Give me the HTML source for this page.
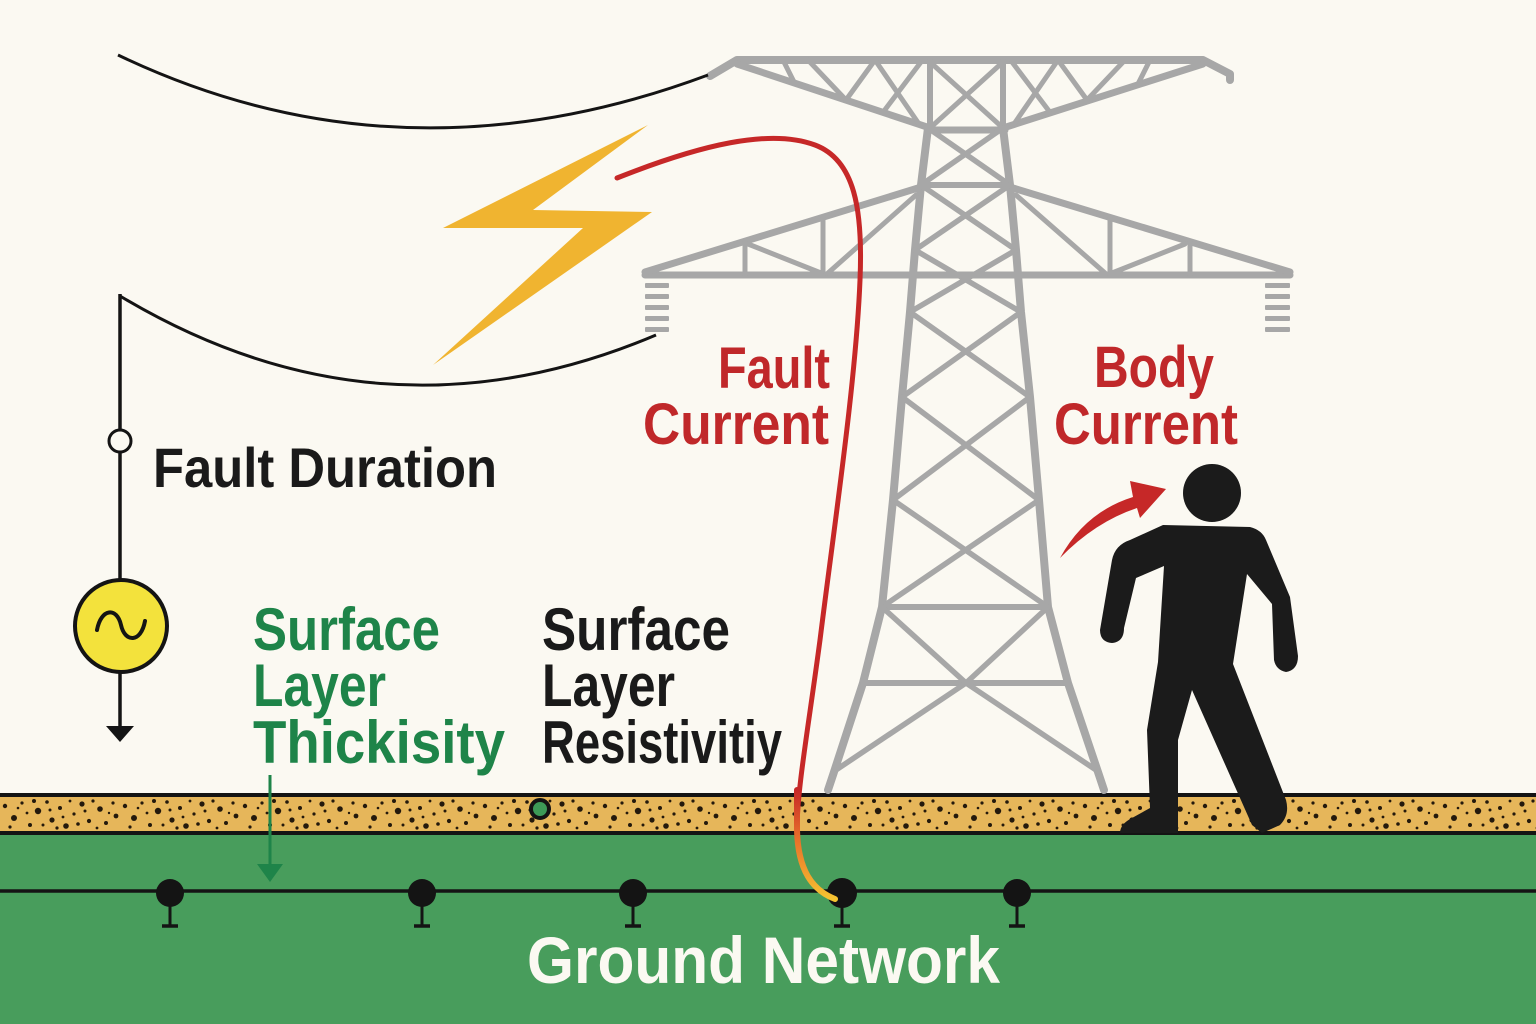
<!DOCTYPE html>
<html>
<head>
<meta charset="utf-8">
<style>
html,body{margin:0;padding:0;background:#fbf9f2;}
svg{display:block;}
text{font-family:"Liberation Sans",sans-serif;font-weight:bold;}
</style>
</head>
<body>
<svg width="1536" height="1024" viewBox="0 0 1536 1024" xmlns="http://www.w3.org/2000/svg">
<defs>
  <pattern id="spk" patternUnits="userSpaceOnUse" x="0" y="797" width="120" height="35">
    <rect width="120" height="35" fill="#e6b65a"/>
    <g fill="#24190c">
      <circle cx="5" cy="9" r="2.2"/><circle cx="14" cy="21" r="3"/><circle cx="22" cy="6" r="1.6"/>
      <circle cx="30" cy="28" r="2"/><circle cx="38" cy="14" r="3.2"/><circle cx="47" cy="5" r="1.8"/>
      <circle cx="52" cy="23" r="2.6"/><circle cx="60" cy="11" r="2"/><circle cx="66" cy="29" r="2.8"/>
      <circle cx="74" cy="17" r="1.6"/><circle cx="82" cy="7" r="2.6"/><circle cx="89" cy="24" r="2.1"/>
      <circle cx="10" cy="30" r="1.6"/><circle cx="27" cy="16" r="1.4"/><circle cx="43" cy="28" r="1.5"/>
      <circle cx="57" cy="31" r="1.6"/><circle cx="70" cy="4" r="1.4"/><circle cx="85" cy="14" r="1.5"/>
      <circle cx="93" cy="4" r="1.6"/><circle cx="18" cy="11" r="1.3"/><circle cx="34" cy="4" r="2"/>
      <circle cx="63" cy="20" r="1.4"/><circle cx="78" cy="27" r="1.8"/><circle cx="50" cy="13" r="1.5"/>
      <circle cx="100" cy="12" r="2.8"/><circle cx="106" cy="26" r="2"/><circle cx="113" cy="6" r="1.6"/>
      <circle cx="116" cy="19" r="2.4"/><circle cx="97" cy="31" r="1.4"/><circle cx="109" cy="16" r="1.2"/>
    </g>
  </pattern>
  <linearGradient id="fg" gradientUnits="userSpaceOnUse" x1="0" y1="790" x2="0" y2="900">
    <stop offset="0" stop-color="#c62828"/>
    <stop offset="0.45" stop-color="#e8702a"/>
    <stop offset="1" stop-color="#f6c531"/>
  </linearGradient>
</defs>

<!-- background -->
<rect width="1536" height="1024" fill="#fbf9f2"/>

<!-- ground -->
<rect x="0" y="834" width="1536" height="190" fill="#489d5c"/>
<rect x="0" y="797" width="1536" height="35" fill="url(#spk)"/>
<rect x="0" y="793" width="1536" height="4" fill="#141414"/>
<rect x="0" y="831" width="1536" height="4" fill="#141414"/>

<!-- ground network line -->
<line x1="0" y1="891" x2="1536" y2="891" stroke="#141414" stroke-width="3.5"/>
<g fill="#141414" stroke="#141414">
  <g transform="translate(170,0)"><circle cx="0" cy="893" r="14" stroke="none"/><line x1="0" y1="905" x2="0" y2="926" stroke-width="3"/><line x1="-8" y1="926" x2="8" y2="926" stroke-width="3.5"/></g>
  <g transform="translate(422,0)"><circle cx="0" cy="893" r="14" stroke="none"/><line x1="0" y1="905" x2="0" y2="926" stroke-width="3"/><line x1="-8" y1="926" x2="8" y2="926" stroke-width="3.5"/></g>
  <g transform="translate(633,0)"><circle cx="0" cy="893" r="14" stroke="none"/><line x1="0" y1="905" x2="0" y2="926" stroke-width="3"/><line x1="-8" y1="926" x2="8" y2="926" stroke-width="3.5"/></g>
  <g transform="translate(842,0)"><circle cx="0" cy="893" r="15" stroke="none"/><line x1="0" y1="905" x2="0" y2="926" stroke-width="3"/><line x1="-8" y1="926" x2="8" y2="926" stroke-width="3.5"/></g>
  <g transform="translate(1017,0)"><circle cx="0" cy="893" r="14" stroke="none"/><line x1="0" y1="905" x2="0" y2="926" stroke-width="3"/><line x1="-8" y1="926" x2="8" y2="926" stroke-width="3.5"/></g>
</g>

<!-- small green circle in surface layer -->
<circle cx="540" cy="809" r="9" fill="#3d9a57" stroke="#141414" stroke-width="4"/>

<!-- green arrow -->
<line x1="270" y1="775" x2="270" y2="866" stroke="#1e8449" stroke-width="3"/>
<polygon points="257,864 283,864 270,882" fill="#1e8449"/>

<!-- tower -->
<g stroke="#a7a7a7" stroke-linecap="round" fill="none">
  <!-- top arm -->
  <polyline points="710,76 737,60 1203,60 1230,74 1230,80" stroke-width="8" stroke-linejoin="round"/>
  <line x1="737" y1="64" x2="930" y2="128" stroke-width="7"/>
  <line x1="1203" y1="64" x2="1003" y2="128" stroke-width="7"/>
  <line x1="930" y1="60" x2="930" y2="130" stroke-width="6"/>
  <line x1="1003" y1="60" x2="1003" y2="130" stroke-width="6"/>
  <line x1="930" y1="62" x2="1003" y2="128" stroke-width="5"/>
  <line x1="1003" y1="62" x2="930" y2="128" stroke-width="5"/>
  <!-- left web -->
  <line x1="783" y1="60" x2="795" y2="84" stroke-width="5"/>
  <line x1="808" y1="60" x2="846" y2="100" stroke-width="5"/>
  <line x1="846" y1="100" x2="875" y2="60" stroke-width="5"/>
  <line x1="875" y1="60" x2="919" y2="124" stroke-width="5"/>
  <line x1="884" y1="111" x2="921" y2="62" stroke-width="5"/>
  <!-- right web (mirror) -->
  <line x1="1150" y1="60" x2="1138" y2="84" stroke-width="5"/>
  <line x1="1125" y1="60" x2="1087" y2="100" stroke-width="5"/>
  <line x1="1087" y1="100" x2="1058" y2="60" stroke-width="5"/>
  <line x1="1058" y1="60" x2="1014" y2="124" stroke-width="5"/>
  <line x1="1049" y1="111" x2="1012" y2="62" stroke-width="5"/>
  <!-- waist -->
  <line x1="928" y1="130" x2="1005" y2="130" stroke-width="7"/>

  <!-- legs -->
  <polyline points="928,128 921,185 915,250 910,312 902,397 893,500 882,607 863,683 833,775 828,790" stroke-width="8" stroke-linejoin="round"/>
  <polyline points="1003,128 1010,185 1016,250 1021,312 1030,397 1039,500 1048,607 1068,683 1099,775 1104,790" stroke-width="8" stroke-linejoin="round"/>
  <!-- horizontals -->
  <line x1="921" y1="185" x2="1010" y2="185" stroke-width="6"/>
  <line x1="882" y1="607" x2="1048" y2="607" stroke-width="6"/>
  <line x1="863" y1="683" x2="1068" y2="683" stroke-width="6"/>
  <!-- X braces -->
  <g stroke-width="5.5">
    <line x1="928" y1="128" x2="1010" y2="185"/><line x1="1003" y1="128" x2="921" y2="185"/>
    <line x1="921" y1="185" x2="1016" y2="250"/><line x1="1010" y1="185" x2="915" y2="250"/>
    <line x1="915" y1="250" x2="1021" y2="312"/><line x1="1016" y1="250" x2="910" y2="312"/>
    <line x1="910" y1="312" x2="1030" y2="397"/><line x1="1021" y1="312" x2="902" y2="397"/>
    <line x1="902" y1="397" x2="1039" y2="500"/><line x1="1030" y1="397" x2="893" y2="500"/>
    <line x1="893" y1="500" x2="1048" y2="607"/><line x1="1039" y1="500" x2="882" y2="607"/>
    <line x1="882" y1="607" x2="966" y2="683"/><line x1="1048" y1="607" x2="966" y2="683"/>
    <line x1="966" y1="683" x2="833" y2="772"/><line x1="966" y1="683" x2="1099" y2="772"/>
  </g>

  <!-- lower arm -->
  <line x1="645" y1="275" x2="1290" y2="275" stroke-width="7"/>
  <line x1="645" y1="272" x2="918" y2="188" stroke-width="7"/>
  <line x1="1290" y1="272" x2="1013" y2="188" stroke-width="7"/>
  <g stroke-width="5">
    <line x1="745" y1="242" x2="745" y2="275"/>
    <line x1="823" y1="218" x2="823" y2="275"/>
    <line x1="748" y1="244" x2="821" y2="273"/>
    <line x1="828" y1="273" x2="916" y2="195"/>
    <line x1="1110" y1="218" x2="1110" y2="275"/>
    <line x1="1190" y1="242" x2="1190" y2="275"/>
    <line x1="1185" y1="244" x2="1112" y2="273"/>
    <line x1="1105" y1="273" x2="1016" y2="195"/>
  </g>
</g>
<!-- insulators -->
<g fill="#a7a7a7">
  <rect x="645" y="283" width="24" height="5" rx="1"/>
  <rect x="645" y="294" width="24" height="5" rx="1"/>
  <rect x="645" y="305" width="24" height="5" rx="1"/>
  <rect x="645" y="316" width="24" height="5" rx="1"/>
  <rect x="645" y="327" width="24" height="5" rx="1"/>
  <rect x="1265" y="283" width="25" height="5" rx="1"/>
  <rect x="1265" y="294" width="25" height="5" rx="1"/>
  <rect x="1265" y="305" width="25" height="5" rx="1"/>
  <rect x="1265" y="316" width="25" height="5" rx="1"/>
  <rect x="1265" y="327" width="25" height="5" rx="1"/>
</g>

<!-- wires -->
<path d="M118,55 Q400,190 708,75" fill="none" stroke="#141414" stroke-width="3"/>
<path d="M120,296 Q380,452 656,335" fill="none" stroke="#141414" stroke-width="3"/>
<line x1="120" y1="294" x2="120" y2="727" stroke="#141414" stroke-width="3.5"/>
<circle cx="120" cy="441" r="11" fill="#fbf9f2" stroke="#141414" stroke-width="3"/>
<circle cx="121" cy="626" r="46" fill="#f3e23c" stroke="#141414" stroke-width="4"/>
<path d="M97,630 C101,608 117,607 121,625 C125,643 141,643 145,621" fill="none" stroke="#141414" stroke-width="4" stroke-linecap="round"/>
<polygon points="106,726 134,726 120,742" fill="#141414"/>

<!-- lightning bolt -->
<polygon points="648,125 533,210 652,212 433,365 583,228 443,228" fill="#f0b430"/>

<!-- fault current line -->
<path d="M617,178 C700,145 770,128 815,145 C855,160 863,210 860,280 C856,380 835,520 820,640 C808,730 797,790 797,830" fill="none" stroke="#c62828" stroke-width="5" stroke-linecap="round"/>
<path d="M797,790 L797,830 C798,870 812,890 835,899" fill="none" stroke="url(#fg)" stroke-width="6" stroke-linecap="round"/>

<!-- person -->
<circle cx="1212" cy="493" r="29" fill="#1b1b1b"/>
<path d="M1163,525 L1250,527 Q1262,530 1266,540 L1290,597 L1298,656 Q1298,670 1286,672 Q1276,670 1274,660 L1272,604 L1247,574 L1233,664 L1286,800 Q1290,815 1280,825 L1262,833 L1252,825 L1192,690 L1178,740 L1178,833 L1120,833 Q1120,824 1132,818 L1150,808 L1147,730 L1158,662 L1164,566 L1136,578 L1124,628 Q1124,642 1112,643 Q1100,642 1100,630 L1112,560 Q1115,545 1130,540 Z" fill="#1b1b1b"/>

<!-- body current arrow -->
<path d="M1060,558 Q1085,512 1133,497 L1130,481 L1166,489 L1140,518 L1137,508 Q1095,522 1060,558 Z" fill="#c62828"/>

<!-- texts -->
<text x="153" y="487" font-size="56" fill="#1a1a1a" textLength="344" lengthAdjust="spacingAndGlyphs">Fault Duration</text>

<text x="718" y="388" font-size="58" fill="#c0282a" textLength="112" lengthAdjust="spacingAndGlyphs">Fault</text>
<text x="643" y="444" font-size="58" fill="#c0282a" textLength="186" lengthAdjust="spacingAndGlyphs">Current</text>
<text x="1094" y="387" font-size="58" fill="#c0282a" textLength="120" lengthAdjust="spacingAndGlyphs">Body</text>
<text x="1054" y="444" font-size="58" fill="#c0282a" textLength="184" lengthAdjust="spacingAndGlyphs">Current</text>

<text x="253" y="650" font-size="60" fill="#1e8449" textLength="187" lengthAdjust="spacingAndGlyphs">Surface</text>
<text x="253" y="706" font-size="60" fill="#1e8449" textLength="133" lengthAdjust="spacingAndGlyphs">Layer</text>
<text x="253" y="763" font-size="60" fill="#1e8449" textLength="252" lengthAdjust="spacingAndGlyphs">Thickisity</text>

<text x="542" y="650" font-size="60" fill="#1a1a1a" textLength="188" lengthAdjust="spacingAndGlyphs">Surface</text>
<text x="542" y="706" font-size="60" fill="#1a1a1a" textLength="133" lengthAdjust="spacingAndGlyphs">Layer</text>
<text x="542" y="763" font-size="60" fill="#1a1a1a" textLength="240" lengthAdjust="spacingAndGlyphs">Resistivitiy</text>

<text x="527" y="983" font-size="66" fill="#fbf9f2" textLength="473" lengthAdjust="spacingAndGlyphs">Ground Network</text>
</svg>
</body>
</html>
